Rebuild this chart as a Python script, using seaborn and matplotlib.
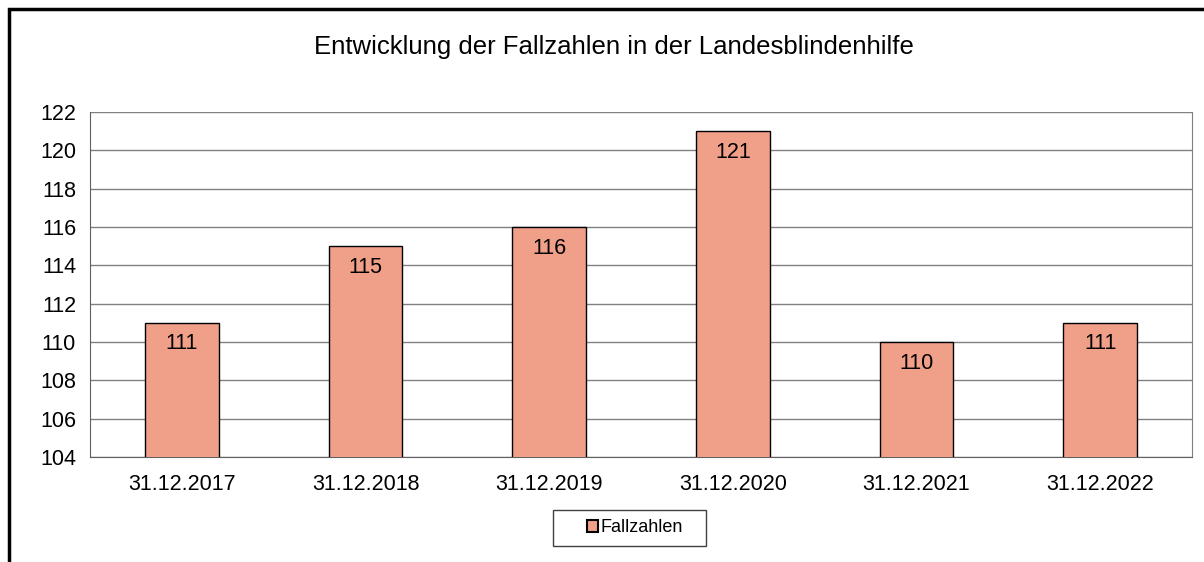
import pandas as pd
import matplotlib.pyplot as plt
import seaborn as sns
from matplotlib.patches import Rectangle

# Data
dates = ["31.12.2017", "31.12.2018", "31.12.2019", "31.12.2020", "31.12.2021", "31.12.2022"]
fallzahlen = [111, 115, 116, 121, 110, 111]
yticks = [104, 106, 108, 110, 112, 114, 116, 118, 120, 122]

df = pd.DataFrame({"Datum": dates, "Fallzahlen": fallzahlen})

sns.set_style("white")
plt.rcParams['font.family'] = ['Liberation Sans', 'DejaVu Sans']
plt.rcParams['text.color'] = 'black'
plt.rcParams['xtick.color'] = 'black'
plt.rcParams['ytick.color'] = 'black'

bar_color = "#F0A088"

fig = plt.figure(figsize=(12.04, 5.62), dpi=100)
ax = fig.add_axes([90 / 1204, 1 - 457 / 562, (1192 - 90) / 1204, (457 - 112) / 562])

sns.barplot(data=df, x="Datum", y="Fallzahlen", color=bar_color, saturation=1, width=0.4,
            edgecolor="black", linewidth=1, ax=ax, label="Fallzahlen", zorder=3)

ax.set_ylim(104, 122)
ax.set_yticks(yticks)
ax.set_xlim(-0.5, len(dates) - 0.5)
ax.yaxis.grid(True, color="#808080", linewidth=1, zorder=0)
ax.set_axisbelow(True)

ax.spines["top"].set_visible(False)
ax.spines["right"].set_color("#808080")
ax.spines["left"].set_color("#606060")
ax.spines["bottom"].set_color("#606060")

# tick marks between categories on x, outward on y
ax.set_xticks(range(len(dates)))
ax.set_xticklabels(dates)
ax.set_xticks([i + 0.5 for i in range(-1, len(dates))], minor=True)
ax.tick_params(axis="x", which="major", length=0, labelsize=15.5, pad=12)
ax.tick_params(axis="x", which="minor", length=6, width=1, color="#606060", direction="out")
ax.tick_params(axis="y", length=5, width=1, color="#606060", direction="out", labelsize=15.5, pad=5)
ax.set_xlabel("")
ax.set_ylabel("")

# value labels inside bars
for i, v in enumerate(fallzahlen):
    ax.text(i, v - 1.1, str(v), ha="center", va="center", fontsize=15.5, zorder=4)

fig.suptitle("Entwicklung der Fallzahlen in der Landesblindenhilfe", x=614 / 1204, y=1 - 47 / 562,
             va="center", fontsize=18.5)

# legend without frame, box drawn separately
leg = ax.legend(loc="center", bbox_to_anchor=(635 / 1204, 1 - 528 / 562),
                bbox_transform=fig.transFigure, frameon=False,
                fontsize=13, handlelength=0.6, handleheight=0.6, handletextpad=0.15,
                borderpad=0, borderaxespad=0)
for h in leg.legend_handles:
    h.set_edgecolor("black")
    h.set_linewidth(1.5)
fig.patches.append(Rectangle((553 / 1204, 1 - 546 / 562), 153 / 1204, 36 / 562,
                             transform=fig.transFigure, fill=False,
                             edgecolor="#404040", linewidth=1))

# outer chart border
fig.patches.append(Rectangle((9 / 1204, -0.05), 1.1, 1 - 9 / 562 + 0.05, transform=fig.transFigure,
                             fill=False, edgecolor="black", linewidth=2.5))

fig.savefig("out.png", dpi=100)
